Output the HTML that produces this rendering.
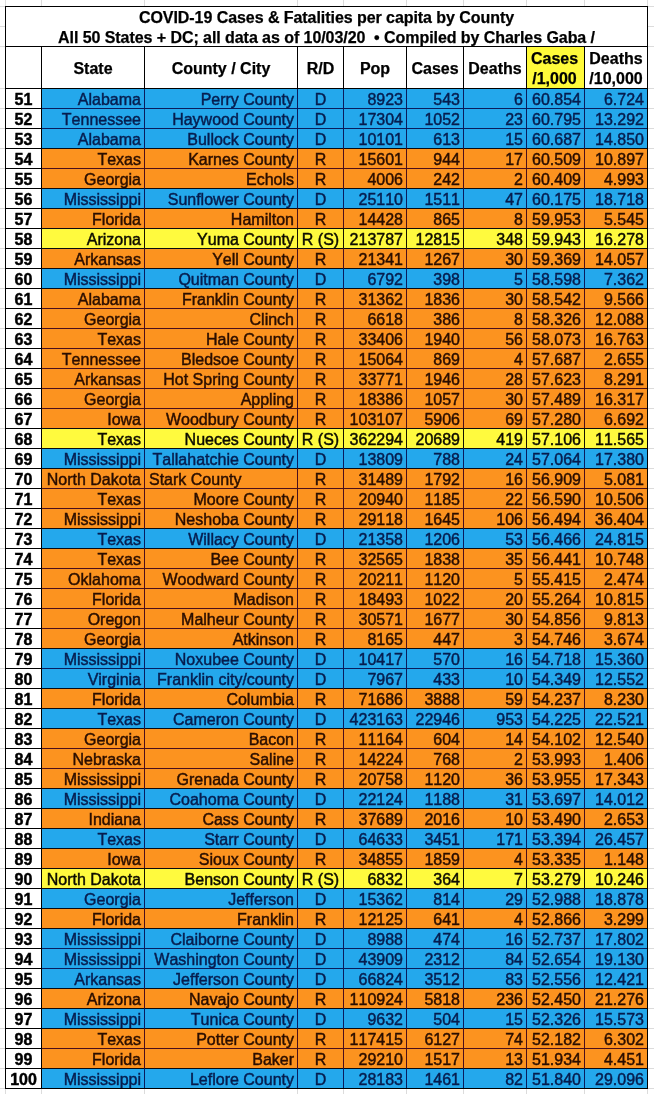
<!DOCTYPE html>
<html><head><meta charset="utf-8"><title>COVID-19 Cases &amp; Fatalities per capita by County</title>
<style>
html,body{margin:0;padding:0;}
body{width:654px;height:1094px;position:relative;overflow:hidden;background:#fff;
 font-family:"Liberation Sans",sans-serif;font-size:16px;line-height:20px;color:#000;font-kerning:none;}
#w{position:absolute;left:0;top:0;width:654px;height:1094px;will-change:transform;}
.g{position:absolute;background:#dcdcdc;}
.k{position:absolute;background:#000;}
.r{position:absolute;left:5px;width:643px;height:20px;}
.r span{position:absolute;top:0;height:20px;box-sizing:border-box;white-space:nowrap;padding-top:2px;overflow:visible;-webkit-text-stroke:0.45px;}
.b{background:#24a8ec;color:#071d4e;}
.o{background:#fc931f;color:#2a0e00;}
.y{background:#fffa3e;color:#0c0c00;}
.b i,.o i,.y i{position:absolute;top:0;width:1px;height:21px;font-style:normal;}
.b i{background:#0a1c5c;} .o i{background:#4a0f1c;} .y i{background:#141400;}
.b u,.o u,.y u{position:absolute;left:36px;top:0;width:607px;height:1px;}
.b u{background:#0a1c5c;} .o u{background:#4a0f1c;} .y u{background:#141400;}
.r u.x{background:#0a0a10;}
.n{left:0;width:37px;background:#fff;color:#000;font-weight:bold;text-align:center;}
.h{position:absolute;-webkit-text-stroke:0.25px #000;font-weight:bold;text-align:center;white-space:nowrap;}
.c1{left:37px;width:102px;text-align:right;padding-right:3px;}
.c2{left:140px;width:152px;text-align:right;padding-right:3px;}
.c3{left:293px;width:45px;text-align:center;}
.c4{left:339px;width:62px;text-align:right;padding-right:3px;}
.c5{left:402px;width:56px;text-align:right;padding-right:3px;}
.c6{left:459px;width:62px;text-align:right;padding-right:3px;}
.c7{left:522px;width:57px;text-align:right;padding-right:3px;}
.c8{left:580px;width:62px;text-align:right;padding-right:3px;}
</style></head>
<body><div id="w">
<div class="g" style="left:5px;top:0;width:1px;height:1094px"></div>
<div class="g" style="left:41px;top:0;width:1px;height:1094px"></div>
<div class="g" style="left:144px;top:0;width:1px;height:1094px"></div>
<div class="g" style="left:297px;top:0;width:1px;height:1094px"></div>
<div class="g" style="left:343px;top:0;width:1px;height:1094px"></div>
<div class="g" style="left:406px;top:0;width:1px;height:1094px"></div>
<div class="g" style="left:463px;top:0;width:1px;height:1094px"></div>
<div class="g" style="left:526px;top:0;width:1px;height:1094px"></div>
<div class="g" style="left:584px;top:0;width:1px;height:1094px"></div>
<div class="g" style="left:647px;top:0;width:1px;height:1094px"></div>
<div class="g" style="left:0;top:6px;width:654px;height:1px"></div>
<div class="g" style="left:0;top:26px;width:654px;height:1px"></div>
<div class="g" style="left:0;top:46px;width:654px;height:1px"></div>
<div class="g" style="left:0;top:88px;width:654px;height:1px"></div>
<div class="g" style="left:0;top:108px;width:654px;height:1px"></div>
<div class="g" style="left:0;top:128px;width:654px;height:1px"></div>
<div class="g" style="left:0;top:148px;width:654px;height:1px"></div>
<div class="g" style="left:0;top:168px;width:654px;height:1px"></div>
<div class="g" style="left:0;top:188px;width:654px;height:1px"></div>
<div class="g" style="left:0;top:208px;width:654px;height:1px"></div>
<div class="g" style="left:0;top:228px;width:654px;height:1px"></div>
<div class="g" style="left:0;top:248px;width:654px;height:1px"></div>
<div class="g" style="left:0;top:268px;width:654px;height:1px"></div>
<div class="g" style="left:0;top:288px;width:654px;height:1px"></div>
<div class="g" style="left:0;top:308px;width:654px;height:1px"></div>
<div class="g" style="left:0;top:328px;width:654px;height:1px"></div>
<div class="g" style="left:0;top:348px;width:654px;height:1px"></div>
<div class="g" style="left:0;top:368px;width:654px;height:1px"></div>
<div class="g" style="left:0;top:388px;width:654px;height:1px"></div>
<div class="g" style="left:0;top:408px;width:654px;height:1px"></div>
<div class="g" style="left:0;top:428px;width:654px;height:1px"></div>
<div class="g" style="left:0;top:448px;width:654px;height:1px"></div>
<div class="g" style="left:0;top:468px;width:654px;height:1px"></div>
<div class="g" style="left:0;top:488px;width:654px;height:1px"></div>
<div class="g" style="left:0;top:508px;width:654px;height:1px"></div>
<div class="g" style="left:0;top:528px;width:654px;height:1px"></div>
<div class="g" style="left:0;top:548px;width:654px;height:1px"></div>
<div class="g" style="left:0;top:568px;width:654px;height:1px"></div>
<div class="g" style="left:0;top:588px;width:654px;height:1px"></div>
<div class="g" style="left:0;top:608px;width:654px;height:1px"></div>
<div class="g" style="left:0;top:628px;width:654px;height:1px"></div>
<div class="g" style="left:0;top:648px;width:654px;height:1px"></div>
<div class="g" style="left:0;top:668px;width:654px;height:1px"></div>
<div class="g" style="left:0;top:688px;width:654px;height:1px"></div>
<div class="g" style="left:0;top:708px;width:654px;height:1px"></div>
<div class="g" style="left:0;top:728px;width:654px;height:1px"></div>
<div class="g" style="left:0;top:748px;width:654px;height:1px"></div>
<div class="g" style="left:0;top:768px;width:654px;height:1px"></div>
<div class="g" style="left:0;top:788px;width:654px;height:1px"></div>
<div class="g" style="left:0;top:808px;width:654px;height:1px"></div>
<div class="g" style="left:0;top:828px;width:654px;height:1px"></div>
<div class="g" style="left:0;top:848px;width:654px;height:1px"></div>
<div class="g" style="left:0;top:868px;width:654px;height:1px"></div>
<div class="g" style="left:0;top:888px;width:654px;height:1px"></div>
<div class="g" style="left:0;top:908px;width:654px;height:1px"></div>
<div class="g" style="left:0;top:928px;width:654px;height:1px"></div>
<div class="g" style="left:0;top:948px;width:654px;height:1px"></div>
<div class="g" style="left:0;top:968px;width:654px;height:1px"></div>
<div class="g" style="left:0;top:988px;width:654px;height:1px"></div>
<div class="g" style="left:0;top:1008px;width:654px;height:1px"></div>
<div class="g" style="left:0;top:1028px;width:654px;height:1px"></div>
<div class="g" style="left:0;top:1048px;width:654px;height:1px"></div>
<div class="g" style="left:0;top:1068px;width:654px;height:1px"></div>
<div class="g" style="left:0;top:1088px;width:654px;height:1px"></div>
<div style="position:absolute;left:5px;top:6px;width:643px;height:83px;background:#fff"></div>
<div style="position:absolute;left:527px;top:47px;width:57px;height:41px;background:#fffa3a"></div>
<div class="h" style="left:6px;top:8px;width:641px;height:40px;letter-spacing:-0.06px">COVID-19 Cases &amp; Fatalities per capita by County<br>All 50 States + DC; all data as of 10/03/20 &nbsp;&bull; Compiled by Charles Gaba /</div>
<div class="h" style="left:42px;top:59px;width:102px;">State</div>
<div class="h" style="left:145px;top:59px;width:152px;">County / City</div>
<div class="h" style="left:298px;top:59px;width:45px;">R/D</div>
<div class="h" style="left:344px;top:59px;width:62px;">Pop</div>
<div class="h" style="left:407px;top:59px;width:56px;">Cases</div>
<div class="h" style="left:464px;top:59px;width:62px;">Deaths</div>
<div class="h" style="left:526px;top:49px;width:57px;">Cases<br>/1,000</div>
<div class="h" style="left:585px;top:49px;width:62px;">Deaths<br>/10,000</div>
<div class="r b" style="top:88px"><span class="n">51</span><span class="c1">Alabama</span><span class="c2">Perry County</span><span class="c3">D</span><span class="c4">8923</span><span class="c5">543</span><span class="c6">6</span><span class="c7">60.854</span><span class="c8">6.724</span><u class="x"></u><i style="left:36px"></i><i style="left:139px"></i><i style="left:292px"></i><i style="left:338px"></i><i style="left:401px"></i><i style="left:458px"></i><i style="left:521px"></i><i style="left:579px"></i><i style="left:642px"></i></div>
<div class="r b" style="top:108px"><span class="n">52</span><span class="c1">Tennessee</span><span class="c2">Haywood County</span><span class="c3">D</span><span class="c4">17304</span><span class="c5">1052</span><span class="c6">23</span><span class="c7">60.795</span><span class="c8">13.292</span><u></u><i style="left:36px"></i><i style="left:139px"></i><i style="left:292px"></i><i style="left:338px"></i><i style="left:401px"></i><i style="left:458px"></i><i style="left:521px"></i><i style="left:579px"></i><i style="left:642px"></i></div>
<div class="r b" style="top:128px"><span class="n">53</span><span class="c1">Alabama</span><span class="c2">Bullock County</span><span class="c3">D</span><span class="c4">10101</span><span class="c5">613</span><span class="c6">15</span><span class="c7">60.687</span><span class="c8">14.850</span><u></u><i style="left:36px"></i><i style="left:139px"></i><i style="left:292px"></i><i style="left:338px"></i><i style="left:401px"></i><i style="left:458px"></i><i style="left:521px"></i><i style="left:579px"></i><i style="left:642px"></i></div>
<div class="r o" style="top:148px"><span class="n">54</span><span class="c1">Texas</span><span class="c2">Karnes County</span><span class="c3">R</span><span class="c4">15601</span><span class="c5">944</span><span class="c6">17</span><span class="c7">60.509</span><span class="c8">10.897</span><u class="x"></u><i style="left:36px"></i><i style="left:139px"></i><i style="left:292px"></i><i style="left:338px"></i><i style="left:401px"></i><i style="left:458px"></i><i style="left:521px"></i><i style="left:579px"></i><i style="left:642px"></i></div>
<div class="r o" style="top:168px"><span class="n">55</span><span class="c1">Georgia</span><span class="c2">Echols</span><span class="c3">R</span><span class="c4">4006</span><span class="c5">242</span><span class="c6">2</span><span class="c7">60.409</span><span class="c8">4.993</span><u></u><i style="left:36px"></i><i style="left:139px"></i><i style="left:292px"></i><i style="left:338px"></i><i style="left:401px"></i><i style="left:458px"></i><i style="left:521px"></i><i style="left:579px"></i><i style="left:642px"></i></div>
<div class="r b" style="top:188px"><span class="n">56</span><span class="c1">Mississippi</span><span class="c2">Sunflower County</span><span class="c3">D</span><span class="c4">25110</span><span class="c5">1511</span><span class="c6">47</span><span class="c7">60.175</span><span class="c8">18.718</span><u class="x"></u><i style="left:36px"></i><i style="left:139px"></i><i style="left:292px"></i><i style="left:338px"></i><i style="left:401px"></i><i style="left:458px"></i><i style="left:521px"></i><i style="left:579px"></i><i style="left:642px"></i></div>
<div class="r o" style="top:208px"><span class="n">57</span><span class="c1">Florida</span><span class="c2">Hamilton</span><span class="c3">R</span><span class="c4">14428</span><span class="c5">865</span><span class="c6">8</span><span class="c7">59.953</span><span class="c8">5.545</span><u class="x"></u><i style="left:36px"></i><i style="left:139px"></i><i style="left:292px"></i><i style="left:338px"></i><i style="left:401px"></i><i style="left:458px"></i><i style="left:521px"></i><i style="left:579px"></i><i style="left:642px"></i></div>
<div class="r y" style="top:228px"><span class="n">58</span><span class="c1">Arizona</span><span class="c2">Yuma County</span><span class="c3">R (S)</span><span class="c4">213787</span><span class="c5">12815</span><span class="c6">348</span><span class="c7">59.943</span><span class="c8">16.278</span><u class="x"></u><i style="left:36px"></i><i style="left:139px"></i><i style="left:292px"></i><i style="left:338px"></i><i style="left:401px"></i><i style="left:458px"></i><i style="left:521px"></i><i style="left:579px"></i><i style="left:642px"></i></div>
<div class="r o" style="top:248px"><span class="n">59</span><span class="c1">Arkansas</span><span class="c2">Yell County</span><span class="c3">R</span><span class="c4">21341</span><span class="c5">1267</span><span class="c6">30</span><span class="c7">59.369</span><span class="c8">14.057</span><u class="x"></u><i style="left:36px"></i><i style="left:139px"></i><i style="left:292px"></i><i style="left:338px"></i><i style="left:401px"></i><i style="left:458px"></i><i style="left:521px"></i><i style="left:579px"></i><i style="left:642px"></i></div>
<div class="r b" style="top:268px"><span class="n">60</span><span class="c1">Mississippi</span><span class="c2">Quitman County</span><span class="c3">D</span><span class="c4">6792</span><span class="c5">398</span><span class="c6">5</span><span class="c7">58.598</span><span class="c8">7.362</span><u class="x"></u><i style="left:36px"></i><i style="left:139px"></i><i style="left:292px"></i><i style="left:338px"></i><i style="left:401px"></i><i style="left:458px"></i><i style="left:521px"></i><i style="left:579px"></i><i style="left:642px"></i></div>
<div class="r o" style="top:288px"><span class="n">61</span><span class="c1">Alabama</span><span class="c2">Franklin County</span><span class="c3">R</span><span class="c4">31362</span><span class="c5">1836</span><span class="c6">30</span><span class="c7">58.542</span><span class="c8">9.566</span><u class="x"></u><i style="left:36px"></i><i style="left:139px"></i><i style="left:292px"></i><i style="left:338px"></i><i style="left:401px"></i><i style="left:458px"></i><i style="left:521px"></i><i style="left:579px"></i><i style="left:642px"></i></div>
<div class="r o" style="top:308px"><span class="n">62</span><span class="c1">Georgia</span><span class="c2">Clinch</span><span class="c3">R</span><span class="c4">6618</span><span class="c5">386</span><span class="c6">8</span><span class="c7">58.326</span><span class="c8">12.088</span><u></u><i style="left:36px"></i><i style="left:139px"></i><i style="left:292px"></i><i style="left:338px"></i><i style="left:401px"></i><i style="left:458px"></i><i style="left:521px"></i><i style="left:579px"></i><i style="left:642px"></i></div>
<div class="r o" style="top:328px"><span class="n">63</span><span class="c1">Texas</span><span class="c2">Hale County</span><span class="c3">R</span><span class="c4">33406</span><span class="c5">1940</span><span class="c6">56</span><span class="c7">58.073</span><span class="c8">16.763</span><u></u><i style="left:36px"></i><i style="left:139px"></i><i style="left:292px"></i><i style="left:338px"></i><i style="left:401px"></i><i style="left:458px"></i><i style="left:521px"></i><i style="left:579px"></i><i style="left:642px"></i></div>
<div class="r o" style="top:348px"><span class="n">64</span><span class="c1">Tennessee</span><span class="c2">Bledsoe County</span><span class="c3">R</span><span class="c4">15064</span><span class="c5">869</span><span class="c6">4</span><span class="c7">57.687</span><span class="c8">2.655</span><u></u><i style="left:36px"></i><i style="left:139px"></i><i style="left:292px"></i><i style="left:338px"></i><i style="left:401px"></i><i style="left:458px"></i><i style="left:521px"></i><i style="left:579px"></i><i style="left:642px"></i></div>
<div class="r o" style="top:368px"><span class="n">65</span><span class="c1">Arkansas</span><span class="c2">Hot Spring County</span><span class="c3">R</span><span class="c4">33771</span><span class="c5">1946</span><span class="c6">28</span><span class="c7">57.623</span><span class="c8">8.291</span><u></u><i style="left:36px"></i><i style="left:139px"></i><i style="left:292px"></i><i style="left:338px"></i><i style="left:401px"></i><i style="left:458px"></i><i style="left:521px"></i><i style="left:579px"></i><i style="left:642px"></i></div>
<div class="r o" style="top:388px"><span class="n">66</span><span class="c1">Georgia</span><span class="c2">Appling</span><span class="c3">R</span><span class="c4">18386</span><span class="c5">1057</span><span class="c6">30</span><span class="c7">57.489</span><span class="c8">16.317</span><u></u><i style="left:36px"></i><i style="left:139px"></i><i style="left:292px"></i><i style="left:338px"></i><i style="left:401px"></i><i style="left:458px"></i><i style="left:521px"></i><i style="left:579px"></i><i style="left:642px"></i></div>
<div class="r o" style="top:408px"><span class="n">67</span><span class="c1">Iowa</span><span class="c2">Woodbury County</span><span class="c3">R</span><span class="c4">103107</span><span class="c5">5906</span><span class="c6">69</span><span class="c7">57.280</span><span class="c8">6.692</span><u></u><i style="left:36px"></i><i style="left:139px"></i><i style="left:292px"></i><i style="left:338px"></i><i style="left:401px"></i><i style="left:458px"></i><i style="left:521px"></i><i style="left:579px"></i><i style="left:642px"></i></div>
<div class="r y" style="top:428px"><span class="n">68</span><span class="c1">Texas</span><span class="c2">Nueces County</span><span class="c3">R (S)</span><span class="c4">362294</span><span class="c5">20689</span><span class="c6">419</span><span class="c7">57.106</span><span class="c8">11.565</span><u class="x"></u><i style="left:36px"></i><i style="left:139px"></i><i style="left:292px"></i><i style="left:338px"></i><i style="left:401px"></i><i style="left:458px"></i><i style="left:521px"></i><i style="left:579px"></i><i style="left:642px"></i></div>
<div class="r b" style="top:448px"><span class="n">69</span><span class="c1">Mississippi</span><span class="c2">Tallahatchie County</span><span class="c3">D</span><span class="c4">13809</span><span class="c5">788</span><span class="c6">24</span><span class="c7">57.064</span><span class="c8">17.380</span><u class="x"></u><i style="left:36px"></i><i style="left:139px"></i><i style="left:292px"></i><i style="left:338px"></i><i style="left:401px"></i><i style="left:458px"></i><i style="left:521px"></i><i style="left:579px"></i><i style="left:642px"></i></div>
<div class="r o" style="top:468px"><span class="n">70</span><span class="c1">North Dakota</span><span class="c2" style="text-align:left;padding-left:4px">Stark County</span><span class="c3">R</span><span class="c4">31489</span><span class="c5">1792</span><span class="c6">16</span><span class="c7">56.909</span><span class="c8">5.081</span><u class="x"></u><i style="left:36px"></i><i style="left:139px"></i><i style="left:292px"></i><i style="left:338px"></i><i style="left:401px"></i><i style="left:458px"></i><i style="left:521px"></i><i style="left:579px"></i><i style="left:642px"></i></div>
<div class="r o" style="top:488px"><span class="n">71</span><span class="c1">Texas</span><span class="c2">Moore County</span><span class="c3">R</span><span class="c4">20940</span><span class="c5">1185</span><span class="c6">22</span><span class="c7">56.590</span><span class="c8">10.506</span><u></u><i style="left:36px"></i><i style="left:139px"></i><i style="left:292px"></i><i style="left:338px"></i><i style="left:401px"></i><i style="left:458px"></i><i style="left:521px"></i><i style="left:579px"></i><i style="left:642px"></i></div>
<div class="r o" style="top:508px"><span class="n">72</span><span class="c1">Mississippi</span><span class="c2">Neshoba County</span><span class="c3">R</span><span class="c4">29118</span><span class="c5">1645</span><span class="c6">106</span><span class="c7">56.494</span><span class="c8">36.404</span><u></u><i style="left:36px"></i><i style="left:139px"></i><i style="left:292px"></i><i style="left:338px"></i><i style="left:401px"></i><i style="left:458px"></i><i style="left:521px"></i><i style="left:579px"></i><i style="left:642px"></i></div>
<div class="r b" style="top:528px"><span class="n">73</span><span class="c1">Texas</span><span class="c2">Willacy County</span><span class="c3">D</span><span class="c4">21358</span><span class="c5">1206</span><span class="c6">53</span><span class="c7">56.466</span><span class="c8">24.815</span><u class="x"></u><i style="left:36px"></i><i style="left:139px"></i><i style="left:292px"></i><i style="left:338px"></i><i style="left:401px"></i><i style="left:458px"></i><i style="left:521px"></i><i style="left:579px"></i><i style="left:642px"></i></div>
<div class="r o" style="top:548px"><span class="n">74</span><span class="c1">Texas</span><span class="c2">Bee County</span><span class="c3">R</span><span class="c4">32565</span><span class="c5">1838</span><span class="c6">35</span><span class="c7">56.441</span><span class="c8">10.748</span><u class="x"></u><i style="left:36px"></i><i style="left:139px"></i><i style="left:292px"></i><i style="left:338px"></i><i style="left:401px"></i><i style="left:458px"></i><i style="left:521px"></i><i style="left:579px"></i><i style="left:642px"></i></div>
<div class="r o" style="top:568px"><span class="n">75</span><span class="c1">Oklahoma</span><span class="c2">Woodward County</span><span class="c3">R</span><span class="c4">20211</span><span class="c5">1120</span><span class="c6">5</span><span class="c7">55.415</span><span class="c8">2.474</span><u></u><i style="left:36px"></i><i style="left:139px"></i><i style="left:292px"></i><i style="left:338px"></i><i style="left:401px"></i><i style="left:458px"></i><i style="left:521px"></i><i style="left:579px"></i><i style="left:642px"></i></div>
<div class="r o" style="top:588px"><span class="n">76</span><span class="c1">Florida</span><span class="c2">Madison</span><span class="c3">R</span><span class="c4">18493</span><span class="c5">1022</span><span class="c6">20</span><span class="c7">55.264</span><span class="c8">10.815</span><u></u><i style="left:36px"></i><i style="left:139px"></i><i style="left:292px"></i><i style="left:338px"></i><i style="left:401px"></i><i style="left:458px"></i><i style="left:521px"></i><i style="left:579px"></i><i style="left:642px"></i></div>
<div class="r o" style="top:608px"><span class="n">77</span><span class="c1">Oregon</span><span class="c2">Malheur County</span><span class="c3">R</span><span class="c4">30571</span><span class="c5">1677</span><span class="c6">30</span><span class="c7">54.856</span><span class="c8">9.813</span><u></u><i style="left:36px"></i><i style="left:139px"></i><i style="left:292px"></i><i style="left:338px"></i><i style="left:401px"></i><i style="left:458px"></i><i style="left:521px"></i><i style="left:579px"></i><i style="left:642px"></i></div>
<div class="r o" style="top:628px"><span class="n">78</span><span class="c1">Georgia</span><span class="c2">Atkinson</span><span class="c3">R</span><span class="c4">8165</span><span class="c5">447</span><span class="c6">3</span><span class="c7">54.746</span><span class="c8">3.674</span><u></u><i style="left:36px"></i><i style="left:139px"></i><i style="left:292px"></i><i style="left:338px"></i><i style="left:401px"></i><i style="left:458px"></i><i style="left:521px"></i><i style="left:579px"></i><i style="left:642px"></i></div>
<div class="r b" style="top:648px"><span class="n">79</span><span class="c1">Mississippi</span><span class="c2">Noxubee County</span><span class="c3">D</span><span class="c4">10417</span><span class="c5">570</span><span class="c6">16</span><span class="c7">54.718</span><span class="c8">15.360</span><u class="x"></u><i style="left:36px"></i><i style="left:139px"></i><i style="left:292px"></i><i style="left:338px"></i><i style="left:401px"></i><i style="left:458px"></i><i style="left:521px"></i><i style="left:579px"></i><i style="left:642px"></i></div>
<div class="r b" style="top:668px"><span class="n">80</span><span class="c1">Virginia</span><span class="c2">Franklin city/county</span><span class="c3">D</span><span class="c4">7967</span><span class="c5">433</span><span class="c6">10</span><span class="c7">54.349</span><span class="c8">12.552</span><u></u><i style="left:36px"></i><i style="left:139px"></i><i style="left:292px"></i><i style="left:338px"></i><i style="left:401px"></i><i style="left:458px"></i><i style="left:521px"></i><i style="left:579px"></i><i style="left:642px"></i></div>
<div class="r o" style="top:688px"><span class="n">81</span><span class="c1">Florida</span><span class="c2">Columbia</span><span class="c3">R</span><span class="c4">71686</span><span class="c5">3888</span><span class="c6">59</span><span class="c7">54.237</span><span class="c8">8.230</span><u class="x"></u><i style="left:36px"></i><i style="left:139px"></i><i style="left:292px"></i><i style="left:338px"></i><i style="left:401px"></i><i style="left:458px"></i><i style="left:521px"></i><i style="left:579px"></i><i style="left:642px"></i></div>
<div class="r b" style="top:708px"><span class="n">82</span><span class="c1">Texas</span><span class="c2">Cameron County</span><span class="c3">D</span><span class="c4">423163</span><span class="c5">22946</span><span class="c6">953</span><span class="c7">54.225</span><span class="c8">22.521</span><u class="x"></u><i style="left:36px"></i><i style="left:139px"></i><i style="left:292px"></i><i style="left:338px"></i><i style="left:401px"></i><i style="left:458px"></i><i style="left:521px"></i><i style="left:579px"></i><i style="left:642px"></i></div>
<div class="r o" style="top:728px"><span class="n">83</span><span class="c1">Georgia</span><span class="c2">Bacon</span><span class="c3">R</span><span class="c4">11164</span><span class="c5">604</span><span class="c6">14</span><span class="c7">54.102</span><span class="c8">12.540</span><u class="x"></u><i style="left:36px"></i><i style="left:139px"></i><i style="left:292px"></i><i style="left:338px"></i><i style="left:401px"></i><i style="left:458px"></i><i style="left:521px"></i><i style="left:579px"></i><i style="left:642px"></i></div>
<div class="r o" style="top:748px"><span class="n">84</span><span class="c1">Nebraska</span><span class="c2">Saline</span><span class="c3">R</span><span class="c4">14224</span><span class="c5">768</span><span class="c6">2</span><span class="c7">53.993</span><span class="c8">1.406</span><u></u><i style="left:36px"></i><i style="left:139px"></i><i style="left:292px"></i><i style="left:338px"></i><i style="left:401px"></i><i style="left:458px"></i><i style="left:521px"></i><i style="left:579px"></i><i style="left:642px"></i></div>
<div class="r o" style="top:768px"><span class="n">85</span><span class="c1">Mississippi</span><span class="c2">Grenada County</span><span class="c3">R</span><span class="c4">20758</span><span class="c5">1120</span><span class="c6">36</span><span class="c7">53.955</span><span class="c8">17.343</span><u></u><i style="left:36px"></i><i style="left:139px"></i><i style="left:292px"></i><i style="left:338px"></i><i style="left:401px"></i><i style="left:458px"></i><i style="left:521px"></i><i style="left:579px"></i><i style="left:642px"></i></div>
<div class="r b" style="top:788px"><span class="n">86</span><span class="c1">Mississippi</span><span class="c2">Coahoma County</span><span class="c3">D</span><span class="c4">22124</span><span class="c5">1188</span><span class="c6">31</span><span class="c7">53.697</span><span class="c8">14.012</span><u class="x"></u><i style="left:36px"></i><i style="left:139px"></i><i style="left:292px"></i><i style="left:338px"></i><i style="left:401px"></i><i style="left:458px"></i><i style="left:521px"></i><i style="left:579px"></i><i style="left:642px"></i></div>
<div class="r o" style="top:808px"><span class="n">87</span><span class="c1">Indiana</span><span class="c2">Cass County</span><span class="c3">R</span><span class="c4">37689</span><span class="c5">2016</span><span class="c6">10</span><span class="c7">53.490</span><span class="c8">2.653</span><u class="x"></u><i style="left:36px"></i><i style="left:139px"></i><i style="left:292px"></i><i style="left:338px"></i><i style="left:401px"></i><i style="left:458px"></i><i style="left:521px"></i><i style="left:579px"></i><i style="left:642px"></i></div>
<div class="r b" style="top:828px"><span class="n">88</span><span class="c1">Texas</span><span class="c2">Starr County</span><span class="c3">D</span><span class="c4">64633</span><span class="c5">3451</span><span class="c6">171</span><span class="c7">53.394</span><span class="c8">26.457</span><u class="x"></u><i style="left:36px"></i><i style="left:139px"></i><i style="left:292px"></i><i style="left:338px"></i><i style="left:401px"></i><i style="left:458px"></i><i style="left:521px"></i><i style="left:579px"></i><i style="left:642px"></i></div>
<div class="r o" style="top:848px"><span class="n">89</span><span class="c1">Iowa</span><span class="c2">Sioux County</span><span class="c3">R</span><span class="c4">34855</span><span class="c5">1859</span><span class="c6">4</span><span class="c7">53.335</span><span class="c8">1.148</span><u class="x"></u><i style="left:36px"></i><i style="left:139px"></i><i style="left:292px"></i><i style="left:338px"></i><i style="left:401px"></i><i style="left:458px"></i><i style="left:521px"></i><i style="left:579px"></i><i style="left:642px"></i></div>
<div class="r y" style="top:868px"><span class="n">90</span><span class="c1">North Dakota</span><span class="c2">Benson County</span><span class="c3">R (S)</span><span class="c4">6832</span><span class="c5">364</span><span class="c6">7</span><span class="c7">53.279</span><span class="c8">10.246</span><u class="x"></u><i style="left:36px"></i><i style="left:139px"></i><i style="left:292px"></i><i style="left:338px"></i><i style="left:401px"></i><i style="left:458px"></i><i style="left:521px"></i><i style="left:579px"></i><i style="left:642px"></i></div>
<div class="r b" style="top:888px"><span class="n">91</span><span class="c1">Georgia</span><span class="c2">Jefferson</span><span class="c3">D</span><span class="c4">15362</span><span class="c5">814</span><span class="c6">29</span><span class="c7">52.988</span><span class="c8">18.878</span><u class="x"></u><i style="left:36px"></i><i style="left:139px"></i><i style="left:292px"></i><i style="left:338px"></i><i style="left:401px"></i><i style="left:458px"></i><i style="left:521px"></i><i style="left:579px"></i><i style="left:642px"></i></div>
<div class="r o" style="top:908px"><span class="n">92</span><span class="c1">Florida</span><span class="c2">Franklin</span><span class="c3">R</span><span class="c4">12125</span><span class="c5">641</span><span class="c6">4</span><span class="c7">52.866</span><span class="c8">3.299</span><u class="x"></u><i style="left:36px"></i><i style="left:139px"></i><i style="left:292px"></i><i style="left:338px"></i><i style="left:401px"></i><i style="left:458px"></i><i style="left:521px"></i><i style="left:579px"></i><i style="left:642px"></i></div>
<div class="r b" style="top:928px"><span class="n">93</span><span class="c1">Mississippi</span><span class="c2">Claiborne County</span><span class="c3">D</span><span class="c4">8988</span><span class="c5">474</span><span class="c6">16</span><span class="c7">52.737</span><span class="c8">17.802</span><u class="x"></u><i style="left:36px"></i><i style="left:139px"></i><i style="left:292px"></i><i style="left:338px"></i><i style="left:401px"></i><i style="left:458px"></i><i style="left:521px"></i><i style="left:579px"></i><i style="left:642px"></i></div>
<div class="r b" style="top:948px"><span class="n">94</span><span class="c1">Mississippi</span><span class="c2">Washington County</span><span class="c3">D</span><span class="c4">43909</span><span class="c5">2312</span><span class="c6">84</span><span class="c7">52.654</span><span class="c8">19.130</span><u></u><i style="left:36px"></i><i style="left:139px"></i><i style="left:292px"></i><i style="left:338px"></i><i style="left:401px"></i><i style="left:458px"></i><i style="left:521px"></i><i style="left:579px"></i><i style="left:642px"></i></div>
<div class="r b" style="top:968px"><span class="n">95</span><span class="c1">Arkansas</span><span class="c2">Jefferson County</span><span class="c3">D</span><span class="c4">66824</span><span class="c5">3512</span><span class="c6">83</span><span class="c7">52.556</span><span class="c8">12.421</span><u></u><i style="left:36px"></i><i style="left:139px"></i><i style="left:292px"></i><i style="left:338px"></i><i style="left:401px"></i><i style="left:458px"></i><i style="left:521px"></i><i style="left:579px"></i><i style="left:642px"></i></div>
<div class="r o" style="top:988px"><span class="n">96</span><span class="c1">Arizona</span><span class="c2">Navajo County</span><span class="c3">R</span><span class="c4">110924</span><span class="c5">5818</span><span class="c6">236</span><span class="c7">52.450</span><span class="c8">21.276</span><u class="x"></u><i style="left:36px"></i><i style="left:139px"></i><i style="left:292px"></i><i style="left:338px"></i><i style="left:401px"></i><i style="left:458px"></i><i style="left:521px"></i><i style="left:579px"></i><i style="left:642px"></i></div>
<div class="r b" style="top:1008px"><span class="n">97</span><span class="c1">Mississippi</span><span class="c2">Tunica County</span><span class="c3">D</span><span class="c4">9632</span><span class="c5">504</span><span class="c6">15</span><span class="c7">52.326</span><span class="c8">15.573</span><u class="x"></u><i style="left:36px"></i><i style="left:139px"></i><i style="left:292px"></i><i style="left:338px"></i><i style="left:401px"></i><i style="left:458px"></i><i style="left:521px"></i><i style="left:579px"></i><i style="left:642px"></i></div>
<div class="r o" style="top:1028px"><span class="n">98</span><span class="c1">Texas</span><span class="c2">Potter County</span><span class="c3">R</span><span class="c4">117415</span><span class="c5">6127</span><span class="c6">74</span><span class="c7">52.182</span><span class="c8">6.302</span><u class="x"></u><i style="left:36px"></i><i style="left:139px"></i><i style="left:292px"></i><i style="left:338px"></i><i style="left:401px"></i><i style="left:458px"></i><i style="left:521px"></i><i style="left:579px"></i><i style="left:642px"></i></div>
<div class="r o" style="top:1048px"><span class="n">99</span><span class="c1">Florida</span><span class="c2">Baker</span><span class="c3">R</span><span class="c4">29210</span><span class="c5">1517</span><span class="c6">13</span><span class="c7">51.934</span><span class="c8">4.451</span><u></u><i style="left:36px"></i><i style="left:139px"></i><i style="left:292px"></i><i style="left:338px"></i><i style="left:401px"></i><i style="left:458px"></i><i style="left:521px"></i><i style="left:579px"></i><i style="left:642px"></i></div>
<div class="r b" style="top:1068px"><span class="n">100</span><span class="c1">Mississippi</span><span class="c2">Leflore County</span><span class="c3">D</span><span class="c4">28183</span><span class="c5">1461</span><span class="c6">82</span><span class="c7">51.840</span><span class="c8">29.096</span><u class="x"></u><i style="left:36px"></i><i style="left:139px"></i><i style="left:292px"></i><i style="left:338px"></i><i style="left:401px"></i><i style="left:458px"></i><i style="left:521px"></i><i style="left:579px"></i><i style="left:642px"></i></div>
<div class="k" style="left:5px;top:6px;width:643px;height:1px"></div>
<div class="k" style="left:5px;top:46px;width:643px;height:1px"></div>
<div class="k" style="left:5px;top:88px;width:643px;height:1px"></div>
<div class="k" style="left:5px;top:1088px;width:643px;height:1px"></div>
<div class="k" style="left:5px;top:6px;width:1px;height:1083px"></div>
<div class="k" style="left:647px;top:6px;width:1px;height:1083px"></div>
<div class="k" style="left:41px;top:46px;width:1px;height:42px"></div>
<div class="k" style="left:144px;top:46px;width:1px;height:42px"></div>
<div class="k" style="left:297px;top:46px;width:1px;height:42px"></div>
<div class="k" style="left:343px;top:46px;width:1px;height:42px"></div>
<div class="k" style="left:406px;top:46px;width:1px;height:42px"></div>
<div class="k" style="left:463px;top:46px;width:1px;height:42px"></div>
<div class="k" style="left:526px;top:46px;width:1px;height:42px"></div>
<div class="k" style="left:584px;top:46px;width:1px;height:42px"></div>
<div class="k" style="left:41px;top:88px;width:1px;height:1000px"></div>
<div class="k" style="left:5px;top:108px;width:37px;height:1px"></div>
<div class="k" style="left:5px;top:128px;width:37px;height:1px"></div>
<div class="k" style="left:5px;top:148px;width:37px;height:1px"></div>
<div class="k" style="left:5px;top:168px;width:37px;height:1px"></div>
<div class="k" style="left:5px;top:188px;width:37px;height:1px"></div>
<div class="k" style="left:5px;top:208px;width:37px;height:1px"></div>
<div class="k" style="left:5px;top:228px;width:37px;height:1px"></div>
<div class="k" style="left:5px;top:248px;width:37px;height:1px"></div>
<div class="k" style="left:5px;top:268px;width:37px;height:1px"></div>
<div class="k" style="left:5px;top:288px;width:37px;height:1px"></div>
<div class="k" style="left:5px;top:308px;width:37px;height:1px"></div>
<div class="k" style="left:5px;top:328px;width:37px;height:1px"></div>
<div class="k" style="left:5px;top:348px;width:37px;height:1px"></div>
<div class="k" style="left:5px;top:368px;width:37px;height:1px"></div>
<div class="k" style="left:5px;top:388px;width:37px;height:1px"></div>
<div class="k" style="left:5px;top:408px;width:37px;height:1px"></div>
<div class="k" style="left:5px;top:428px;width:37px;height:1px"></div>
<div class="k" style="left:5px;top:448px;width:37px;height:1px"></div>
<div class="k" style="left:5px;top:468px;width:37px;height:1px"></div>
<div class="k" style="left:5px;top:488px;width:37px;height:1px"></div>
<div class="k" style="left:5px;top:508px;width:37px;height:1px"></div>
<div class="k" style="left:5px;top:528px;width:37px;height:1px"></div>
<div class="k" style="left:5px;top:548px;width:37px;height:1px"></div>
<div class="k" style="left:5px;top:568px;width:37px;height:1px"></div>
<div class="k" style="left:5px;top:588px;width:37px;height:1px"></div>
<div class="k" style="left:5px;top:608px;width:37px;height:1px"></div>
<div class="k" style="left:5px;top:628px;width:37px;height:1px"></div>
<div class="k" style="left:5px;top:648px;width:37px;height:1px"></div>
<div class="k" style="left:5px;top:668px;width:37px;height:1px"></div>
<div class="k" style="left:5px;top:688px;width:37px;height:1px"></div>
<div class="k" style="left:5px;top:708px;width:37px;height:1px"></div>
<div class="k" style="left:5px;top:728px;width:37px;height:1px"></div>
<div class="k" style="left:5px;top:748px;width:37px;height:1px"></div>
<div class="k" style="left:5px;top:768px;width:37px;height:1px"></div>
<div class="k" style="left:5px;top:788px;width:37px;height:1px"></div>
<div class="k" style="left:5px;top:808px;width:37px;height:1px"></div>
<div class="k" style="left:5px;top:828px;width:37px;height:1px"></div>
<div class="k" style="left:5px;top:848px;width:37px;height:1px"></div>
<div class="k" style="left:5px;top:868px;width:37px;height:1px"></div>
<div class="k" style="left:5px;top:888px;width:37px;height:1px"></div>
<div class="k" style="left:5px;top:908px;width:37px;height:1px"></div>
<div class="k" style="left:5px;top:928px;width:37px;height:1px"></div>
<div class="k" style="left:5px;top:948px;width:37px;height:1px"></div>
<div class="k" style="left:5px;top:968px;width:37px;height:1px"></div>
<div class="k" style="left:5px;top:988px;width:37px;height:1px"></div>
<div class="k" style="left:5px;top:1008px;width:37px;height:1px"></div>
<div class="k" style="left:5px;top:1028px;width:37px;height:1px"></div>
<div class="k" style="left:5px;top:1048px;width:37px;height:1px"></div>
<div class="k" style="left:5px;top:1068px;width:37px;height:1px"></div>
</div></body></html>
